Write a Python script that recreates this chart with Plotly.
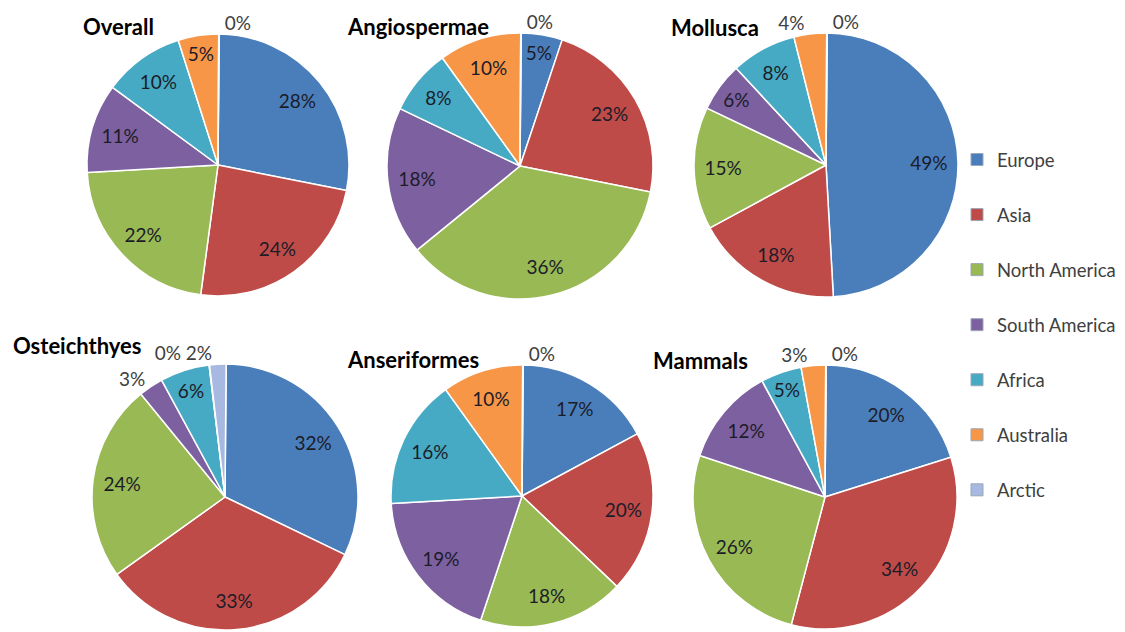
import plotly.graph_objects as go

W, H = 1125, 632

regions = ["Europe", "Asia", "North America", "South America", "Africa", "Australia", "Arctic"]
colors = ["#4A7EBB", "#BE4B48", "#98B954", "#7D60A0", "#46AAC5", "#F79646", "#A7B9E0"]

titles = ["Overall", "Angiospermae", "Mollusca", "Osteichthyes", "Anseriformes", "Mammals"]
overall      = [28, 24, 22, 11, 10, 5, 0]
angiospermae = [5, 23, 36, 18, 8, 10, 0]
mollusca     = [49, 18, 15, 6, 8, 4, 0]
osteichthyes = [32, 33, 24, 3, 6, 0, 2]
anseriformes = [17, 20, 18, 19, 16, 10, 0]
mammals      = [20, 34, 26, 12, 5, 3, 0]
series = [overall, angiospermae, mollusca, osteichthyes, anseriformes, mammals]

# layout: pie centres / radii in pixels, title anchors
centres = [(218, 165, 131), (520, 166, 133), (826, 165, 132),
           (225, 497, 133), (522, 496, 131), (825, 497, 132)]
title_pos = [(81, 26), (345, 26), (669, 27), (11, 345), (345, 359), (651, 360)]

FONT = "Lato"
ROT = 0.5  # tiny clockwise turn so a 0% slice at 12 o'clock labels to the right
fig = go.Figure()

for name, vals, (cx, cy, r) in zip(titles, series, centres):
    disp = [v if v > 0 else 0.05 for v in vals]
    pos = ["inside" if v >= 5 else "outside" for v in vals]
    txt = [f"{v}%" for v in vals]
    # two small non-zero neighbours left of 12 o'clock share one label line
    if pos[-1] == "outside" and pos[-2] == "outside" and vals[-1] > 0:
        txt[-1] = txt[-2] + " " + txt[-1]
        txt[-2] = ""
    dom = dict(x=[(cx - r) / W, (cx + r) / W], y=[1 - (cy + r) / H, 1 - (cy - r) / H])
    fig.add_trace(go.Pie(
        labels=regions, values=disp, textinfo="none", sort=False, direction="clockwise",
        rotation=ROT, marker=dict(colors=colors, line=dict(color="white", width=1.5)),
        showlegend=False, hoverinfo="label", name=name, domain=dom,
    ))
    fig.add_trace(go.Pie(
        labels=regions, values=disp, text=txt, hole=0.56,
        textinfo="text", textposition=pos, sort=False, direction="clockwise",
        rotation=ROT, insidetextorientation="horizontal",
        marker=dict(colors=["rgba(0,0,0,0)"] * len(vals), line=dict(width=0)),
        insidetextfont=dict(family=FONT, size=19, color="#1C1C28"),
        outsidetextfont=dict(family=FONT, size=19, color="#404040"),
        showlegend=False, hoverinfo="skip", name=name, domain=dom,
    ))

for i, (reg, col) in enumerate(zip(regions, colors)):
    fig.add_trace(go.Scatter(
        x=[None], y=[None], mode="markers", name=reg, legendgroup=reg,
        marker=dict(symbol="square", size=12, color=col, line=dict(color="#9AA6B8", width=1)),
    ))

for t, (x, y) in zip(titles, title_pos):
    fig.add_annotation(text=f"<b>{t}</b>", x=x / W, y=1 - y / H, xref="paper", yref="paper",
                       xanchor="left", yanchor="middle", showarrow=False,
                       font=dict(family=FONT, size=22, color="black"))

fig.update_layout(
    width=W, height=H, margin=dict(l=0, r=0, t=0, b=0, autoexpand=False),
    paper_bgcolor="white", plot_bgcolor="white",
    xaxis=dict(visible=False), yaxis=dict(visible=False),
    legend=dict(x=957 / W, y=1 - 141 / H, xanchor="left", yanchor="top",
                font=dict(family=FONT, size=18.5, color="#404040"),
                tracegroupgap=28, itemwidth=30, bgcolor="rgba(0,0,0,0)"),
)

fig.write_html("out.html", config={"displayModeBar": False},
               post_script="document.body.style.margin='0';")
